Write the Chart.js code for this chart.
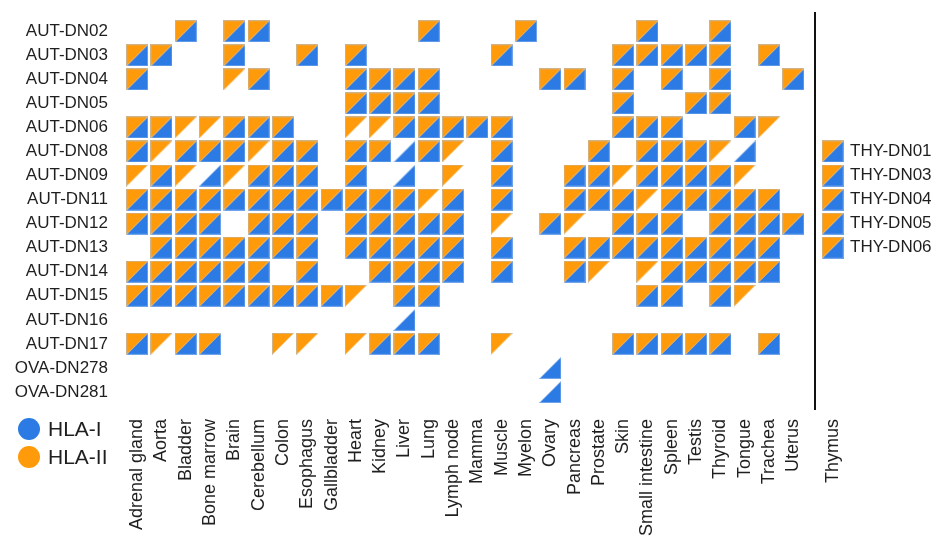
<!DOCTYPE html>
<html>
<head>
<meta charset="utf-8">
<title>HLA ligands per tissue and donor</title>
<script src="https://cdn.jsdelivr.net/npm/chart.js@4.4.1/dist/chart.umd.min.js"></script>
<style>
  html, body { margin: 0; padding: 0; background: #fff; }
  #wrap { position: relative; width: 935px; height: 536px; }
  .legend-item {
    position: absolute;
    left: 18px;
    height: 22px;
    display: flex;
    align-items: center;
    font-family: "Liberation Sans", Arial, Helvetica, sans-serif;
    font-size: 21px;
    color: #1f1f1f;
  }
  .legend-dot { width: 22px; height: 22px; border-radius: 50%; margin-right: 8px; }
</style>
</head>
<body>
<div id="wrap">
  <canvas id="hla-chart" width="935" height="536"></canvas>
  <div class="legend-item" style="top: 418px;"><span class="legend-dot" style="background: #2c7be5;"></span>HLA-I</div>
  <div class="legend-item" style="top: 446px;"><span class="legend-dot" style="background: #ff9a0a;"></span>HLA-II</div>
</div>
<script>
const tissues = [
  "Adrenal gland", "Aorta", "Bladder", "Bone marrow", "Brain", "Cerebellum", "Colon",
  "Esophagus", "Gallbladder", "Heart", "Kidney", "Liver", "Lung", "Lymph node",
  "Mamma", "Muscle", "Myelon", "Ovary", "Pancreas", "Prostate", "Skin",
  "Small intestine", "Spleen", "Testis", "Thyroid", "Tongue", "Trachea", "Uterus",
];

const donors = [
  "AUT-DN02", "AUT-DN03", "AUT-DN04", "AUT-DN05", "AUT-DN06", "AUT-DN08",
  "AUT-DN09", "AUT-DN11", "AUT-DN12", "AUT-DN13", "AUT-DN14", "AUT-DN15",
  "AUT-DN16", "AUT-DN17", "OVA-DN278", "OVA-DN281",
];

// one string per donor, one character per tissue (spaces only group by 7)
// B = HLA-I and HLA-II, L = HLA-I only, O = HLA-II only, . = none
const calls = [
  "..B.BB. .....B. ..B.... B..B...",
  "BB..B.. B.B.... .B....B BBBB.B.",
  "B...OB. ..BBBB. ...BB.B .B.B..B",
  "....... ..BBBB. ......B ..BB...",
  "BBOOBBB ..OOBBB BB....B BB..BO.",
  "BOBBBOB B.BBLBO .B...B. BBBOL..",
  "OBOLOBB B.B.L.O .B..BBO BBBBO..",
  "BBBBBBB BBBBBOB .B..BBB OBBBBB.",
  "BBBB.BB B.BBBBB .O.BO.B BB.BBBB",
  ".BBBBBB B.BBBBB .B..BBB BBBBBB.",
  "BBBBBB. B..BBBB .B..BO. OBBBBB.",
  "BBBBBBB BBO.BB. ....... BB.BO..",
  "....... ....L.. ....... .......",
  "BOBB..O O.OBBB. .O....B BBBB.B.",
  "....... ....... ...L... .......",
  "....... ....... ...L... .......",
].map((s) => s.replace(/ /g, ""));

// thymus donors, shown in their own column on the right
const thymusDonors = ["THY-DN01", "THY-DN03", "THY-DN04", "THY-DN05", "THY-DN06"];
const thymusCalls = ["B", "B", "B", "B", "B"];
const thymusFirstRow = 5;

const BLUE = "#2c7be5";
const ORANGE = "#ff9a0a";
const TEXT = "#1f1f1f";
const THYMUS_X = tissues.length + 0.62;
const DIVIDER_X = tissues.length - 0.1;
const CELL = 22;

// half-cell marker: HLA-II fills the upper-left triangle, HLA-I the lower-right
function halfCell(color, upper) {
  const c = document.createElement("canvas");
  c.width = CELL;
  c.height = CELL;
  const g = c.getContext("2d");
  g.beginPath();
  if (upper) {
    g.moveTo(0, 0);
    g.lineTo(CELL, 0);
    g.lineTo(0, CELL);
  } else {
    g.moveTo(CELL, 0);
    g.lineTo(CELL, CELL);
    g.lineTo(0, CELL);
  }
  g.closePath();
  g.fillStyle = color;
  g.fill();
  // faint rim on the outer edges
  g.strokeStyle = "rgba(170, 198, 238, 0.55)";
  g.lineWidth = 1;
  g.beginPath();
  if (upper) {
    g.moveTo(0.5, CELL);
    g.lineTo(0.5, 0.5);
    g.lineTo(CELL, 0.5);
  } else {
    g.moveTo(CELL - 0.5, 0);
    g.lineTo(CELL - 0.5, CELL - 0.5);
    g.lineTo(0, CELL - 0.5);
  }
  g.stroke();
  return c;
}

const hla1Points = [];
const hla2Points = [];
calls.forEach((row, r) => {
  [...row].forEach((c, t) => {
    if (c === "B" || c === "L") hla1Points.push({ x: t, y: r });
    if (c === "B" || c === "O") hla2Points.push({ x: t, y: r });
  });
});
thymusCalls.forEach((c, i) => {
  const y = thymusFirstRow + i;
  if (c === "B" || c === "L") hla1Points.push({ x: THYMUS_X, y: y });
  if (c === "B" || c === "O") hla2Points.push({ x: THYMUS_X, y: y });
});

const xTicks = tissues.map((_, i) => i).concat([DIVIDER_X, THYMUS_X]);
const thymusRows = thymusDonors.map((_, i) => thymusFirstRow + i);

// drop the half-label padding Chart.js reserves around axis ends
function noEndPadding(scale) {
  scale.paddingTop = 0;
  scale.paddingBottom = 0;
  scale.paddingLeft = 0;
  scale.paddingRight = 0;
}

Chart.defaults.font.family = '"Liberation Sans", Arial, Helvetica, sans-serif';
Chart.defaults.color = TEXT;

new Chart(document.getElementById("hla-chart"), {
  type: "scatter",
  data: {
    datasets: [
      {
        label: "HLA-II",
        data: hla2Points,
        pointStyle: halfCell(ORANGE, true),
        pointRadius: CELL / 2,
      },
      {
        label: "HLA-I",
        data: hla1Points,
        pointStyle: halfCell(BLUE, false),
        pointRadius: CELL / 2,
      },
    ],
  },
  options: {
    responsive: false,
    animation: false,
    events: [],
    layout: { padding: { top: 9, left: 0, right: 0, bottom: 0 } },
    plugins: {
      legend: { display: false },
      tooltip: { enabled: false },
    },
    scales: {
      x: {
        type: "linear",
        min: -0.5,
        max: 29.17,
        afterBuildTicks: (axis) => {
          axis.ticks = xTicks.map((v) => ({ value: v }));
        },
        afterFit: (scale) => {
          scale.height = 126;
          noEndPadding(scale);
        },
        ticks: {
          autoSkip: false,
          minRotation: 90,
          maxRotation: 90,
          padding: 9,
          font: { size: 18 },
          color: TEXT,
          callback: function (value, index) {
            if (value === THYMUS_X) return "Thymus";
            if (value === DIVIDER_X) return "";
            return tissues[index];
          },
        },
        grid: {
          drawTicks: false,
          lineWidth: 2,
          color: (ctx) =>
            ctx.tick && ctx.tick.value === DIVIDER_X ? "#111111" : "rgba(0,0,0,0)",
        },
        border: { display: false },
      },
      y: {
        type: "linear",
        reverse: true,
        min: -0.8,
        max: 15.75,
        afterBuildTicks: (axis) => {
          axis.ticks = donors.map((_, i) => ({ value: i }));
        },
        afterFit: (scale) => {
          scale.width = 125;
          noEndPadding(scale);
        },
        ticks: {
          autoSkip: false,
          padding: 17,
          font: { size: 17 },
          color: TEXT,
          callback: (value, index) => donors[index],
        },
        grid: { display: false, drawTicks: false },
        border: { display: false },
      },
      y2: {
        type: "linear",
        position: "right",
        reverse: true,
        min: -0.8,
        max: 15.75,
        afterBuildTicks: (axis) => {
          axis.ticks = thymusRows.map((v) => ({ value: v }));
        },
        afterFit: (scale) => {
          scale.width = 89;
          noEndPadding(scale);
        },
        ticks: {
          autoSkip: false,
          padding: 4,
          font: { size: 17 },
          color: TEXT,
          callback: (value, index) => thymusDonors[index],
        },
        grid: { display: false, drawTicks: false },
        border: { display: false },
      },
    },
  },
});
</script>
</body>
</html>
